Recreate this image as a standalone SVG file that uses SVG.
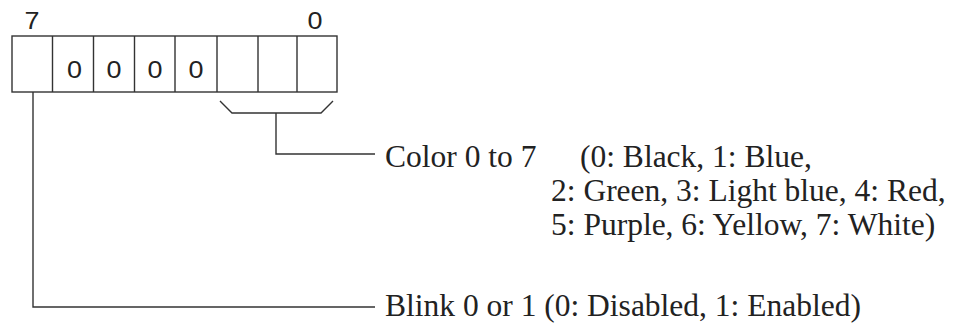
<svg xmlns="http://www.w3.org/2000/svg" width="953" height="325" viewBox="0 0 953 325">
<style>
.ln{fill:none;stroke:#333;stroke-width:1.4}
.sans{font-family:"Liberation Sans",Arial,sans-serif;font-size:24px;fill:#222}
.serif{font-family:"Liberation Serif","Times New Roman",serif;font-size:31.5px;fill:#222}
</style>
<rect width="953" height="325" fill="#fff"/>
<g id="register">
<rect class="ln" x="12" y="36" width="325" height="56"/>
<path class="ln" d="M52.5 36V92M93.5 36V92M134.5 36V92M175 36V92M217 36V92M258 36V92M297 36V92"/>
<text class="sans" x="24.5" y="29" textLength="15" lengthAdjust="spacingAndGlyphs">7</text>
<text class="sans" x="307.5" y="29" textLength="15" lengthAdjust="spacingAndGlyphs">0</text>
<text class="sans" x="67" y="78" textLength="15" lengthAdjust="spacingAndGlyphs">0</text>
<text class="sans" x="106.5" y="78" textLength="15" lengthAdjust="spacingAndGlyphs">0</text>
<text class="sans" x="147.5" y="78" textLength="15" lengthAdjust="spacingAndGlyphs">0</text>
<text class="sans" x="188.5" y="78" textLength="15" lengthAdjust="spacingAndGlyphs">0</text>
</g>
<g id="connectors">
<path class="ln" d="M220 101L232 113H321L333 101"/>
<path class="ln" d="M276 113V154H375"/>
<path class="ln" d="M33 92V307H375"/>
</g>
<g id="color-label">
<text class="serif" x="385" y="167">Color 0 to 7</text>
<text class="serif" x="580" y="167">(0: Black, 1: Blue,</text>
<text class="serif" x="551" y="201">2: Green, 3: Light blue, 4: Red,</text>
<text class="serif" x="551" y="235">5: Purple, 6: Yellow, 7: White)</text>
</g>
<g id="blink-label">
<text class="serif" x="385" y="316">Blink 0 or 1 (0: Disabled, 1: Enabled)</text>
</g>
</svg>
